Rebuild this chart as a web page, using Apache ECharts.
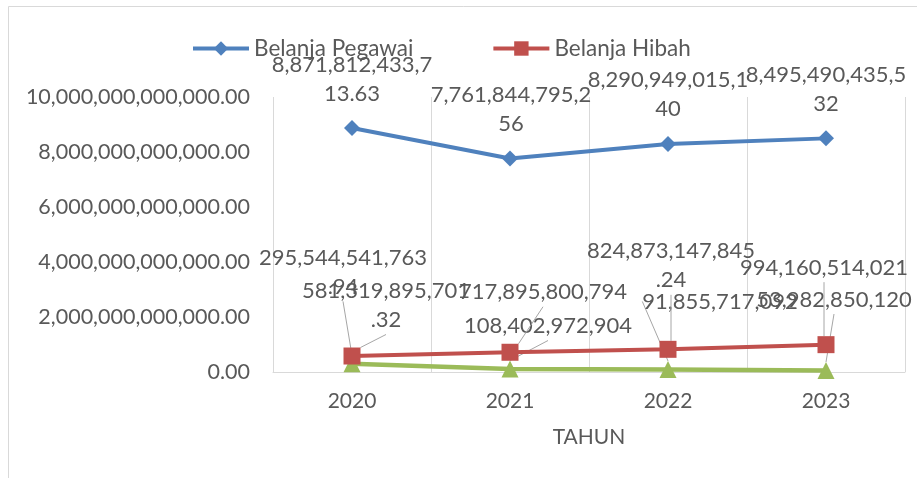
<!DOCTYPE html>
<html>
<head>
<meta charset="utf-8">
<script src="https://cdn.jsdelivr.net/npm/echarts@6/dist/echarts.min.js"></script>
<style>
html,body{margin:0;padding:0;background:#fff;}
#chart{width:917px;height:478px;}
</style>
</head>
<body>
<div id="chart"></div>
<script>
const categories = ['2020', '2021', '2022', '2023'];
const belanjaPegawai = [8871812433713.63, 7761844795256, 8290949015140, 8495490435532];
const belanjaHibah = [581319895701.32, 717895800794, 824873147845.24, 994160514021];
const seriesKetiga = [295544541763.94, 108402972904, 91855717092, 53982850120];
const yTicks = {min: 0, max: 10000000000000, interval: 2000000000000};

// label offsets (center of first text line relative to the marker), in px
const offPegawai = [[0, -63], [1, -64], [0, -64], [0, -63]];
const offHibah = [[34, -65], [33, -60], [3, -98], [-2, -77]];
const offKetiga = [[-9, -106], [38, -43], [52, -68], [8, -71]];

const FONT = 'Lato';
const TXT = '#595959';
const LH = 29;

function fmtValue(v) {
  const s = String(v);
  const parts = s.split('.');
  const intp = parts[0].replace(/\B(?=(\d{3})+(?!\d))/g, ',');
  const full = parts.length > 1 ? intp + '.' + parts[1] : intp;
  const lines = [];
  for (let i = 0; i < full.length; i += 15) lines.push(full.slice(i, i + 15));
  return lines.join('\n');
}

function layoutFrom(offs) {
  return function (p) {
    const r = p.rect;
    const cx = r.x + r.width / 2;
    const cy = r.y + r.height / 2;
    const o = offs[p.dataIndex];
    return {x: cx + o[0], y: cy + o[1] - LH / 2, align: 'center', verticalAlign: 'top'};
  };
}

const labelBase = {
  show: true,
  color: TXT,
  fontFamily: FONT,
  fontSize: 22,
  lineHeight: LH,
  formatter: p => fmtValue(p.value)
};

const chart = echarts.init(document.getElementById('chart'));
chart.setOption({
  backgroundColor: '#ffffff',
  animation: false,
  graphic: [{
    type: 'rect',
    shape: {x: 8.5, y: 6.5, width: 1200, height: 1200},
    style: {fill: 'none', stroke: '#d9d9d9', lineWidth: 1},
    silent: true
  }],
  legend: {
    data: ['Belanja Pegawai', 'Belanja Hibah'],
    left: 186,
    top: 32,
    itemWidth: 56,
    itemHeight: 18,
    itemGap: 78,
    lineStyle: {width: 4},
    textStyle: {color: TXT, fontFamily: FONT, fontSize: 22.5}
  },
  grid: {left: 273, right: 12, top: 97, bottom: 106, containLabel: false},
  xAxis: {
    type: 'category',
    data: categories,
    boundaryGap: true,
    name: 'TAHUN',
    nameLocation: 'middle',
    nameGap: 55,
    nameTextStyle: {color: TXT, fontFamily: FONT, fontSize: 21},
    axisLine: {show: true, lineStyle: {color: '#d9d9d9', width: 1}},
    axisTick: {show: false},
    axisLabel: {color: TXT, fontFamily: FONT, fontSize: 21, margin: 19},
    splitLine: {show: true, lineStyle: {color: '#d9d9d9', width: 1}}
  },
  yAxis: {
    type: 'value',
    min: yTicks.min,
    max: yTicks.max,
    interval: yTicks.interval,
    axisLine: {show: false},
    axisTick: {show: false},
    splitLine: {show: false},
    axisLabel: {
      color: TXT, fontFamily: FONT, fontSize: 21.5, margin: 23,
      formatter: v => v.toLocaleString('en-US', {minimumFractionDigits: 2, maximumFractionDigits: 2})
    }
  },
  series: [
    {
      name: 'Belanja Pegawai',
      type: 'line',
      data: belanjaPegawai,
      symbol: 'diamond',
      symbolSize: 16,
      lineStyle: {color: '#4F81BD', width: 4},
      itemStyle: {color: '#4F81BD'},
      label: Object.assign({}, labelBase),
      labelLayout: layoutFrom(offPegawai),
      z: 3
    },
    {
      name: 'Belanja Hibah',
      type: 'line',
      data: belanjaHibah,
      symbol: 'rect',
      symbolSize: 17,
      lineStyle: {color: '#C0504D', width: 4},
      itemStyle: {color: '#C0504D'},
      label: Object.assign({}, labelBase),
      labelLine: {show: true, lineStyle: {color: '#a6a6a6', width: 1}},
      labelLayout: layoutFrom(offHibah),
      z: 3
    },
    {
      name: 'Series 3',
      type: 'line',
      data: seriesKetiga,
      symbol: 'triangle',
      symbolSize: 17,
      lineStyle: {color: '#9BBB59', width: 4.5},
      itemStyle: {color: '#9BBB59'},
      label: Object.assign({}, labelBase),
      labelLine: {show: true, lineStyle: {color: '#a6a6a6', width: 1}},
      labelLayout: layoutFrom(offKetiga),
      z: 2
    }
  ]
});
</script>
</body>
</html>
